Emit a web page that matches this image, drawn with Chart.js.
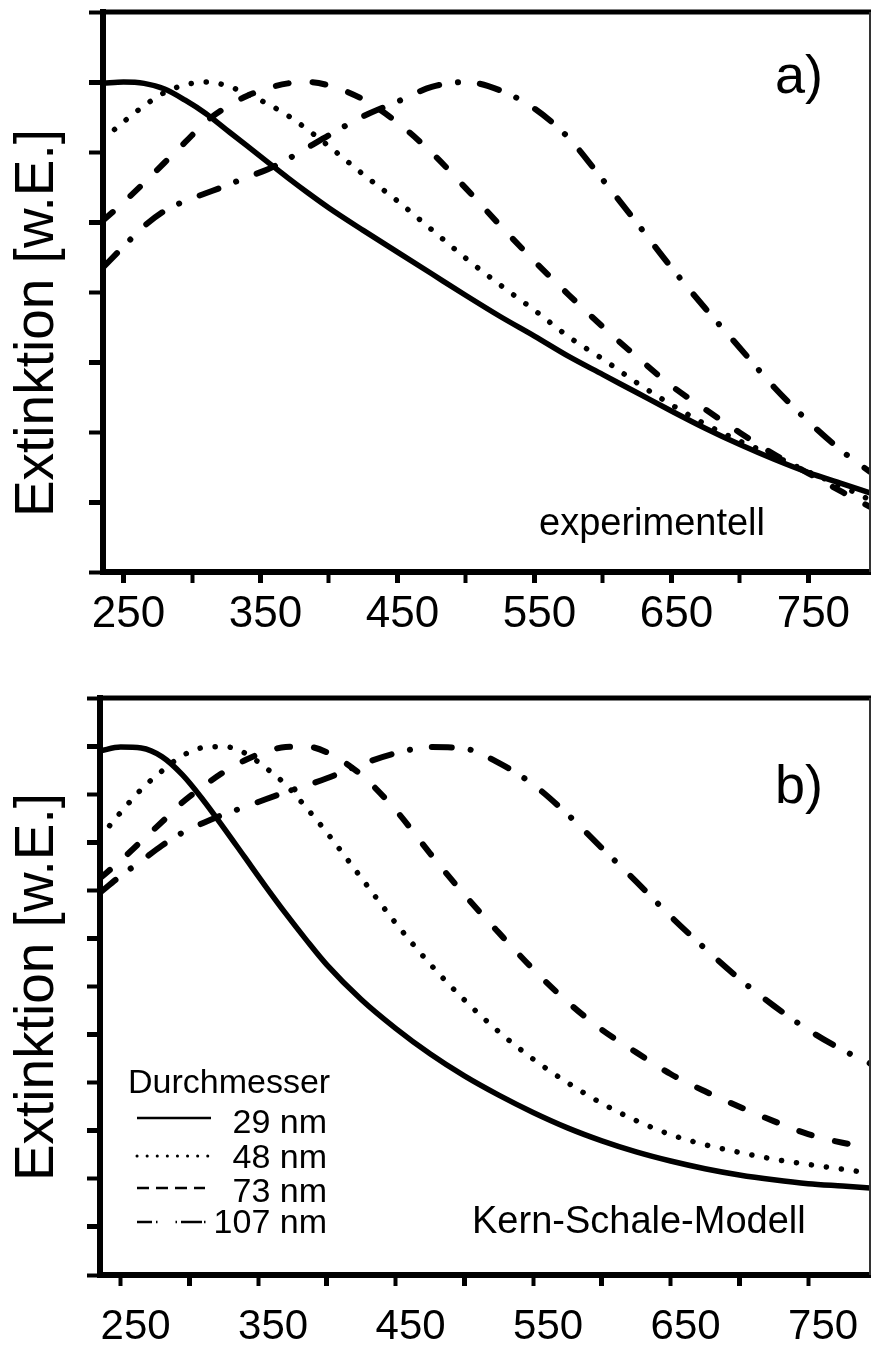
<!DOCTYPE html>
<html><head><meta charset="utf-8">
<script src="https://cdn.jsdelivr.net/npm/chart.js@4.4.0/dist/chart.umd.min.js"></script>
<style>
html,body{margin:0;padding:0;background:#fff;}
#wrap{position:relative;width:872px;height:1351px;background:#fff;}
.box{position:absolute;left:0;width:872px;}
canvas{display:block;}
</style></head><body>
<div id="wrap">
<div class="box" style="top:0;height:650px"><canvas id="ca" width="872" height="650"></canvas></div>
<div class="box" style="top:650px;height:701px"><canvas id="cb" width="872" height="701"></canvas></div>
</div>
<script>
// ---- data (wavelength in nm, extinction in arbitrary units = axis tick units) ----
const wavelengths = [235,250,265,280,295,310,325,340,355,370,385,400,425,450,475,500,525,550,575,600,625,650,675,700,725,750,775,795];
const xTickLabels = [250,350,450,550,650,750];
const xMinorTicks = [300,400,500,600,700];
const seriesNames = ['29 nm','48 nm','73 nm','107 nm'];

// panel a) experimentell
const expt29  = [6.98,7.00,6.98,6.90,6.74,6.55,6.32,6.09,5.86,5.63,5.41,5.20,4.88,4.57,4.26,3.95,3.65,3.37,3.08,2.82,2.56,2.30,2.05,1.82,1.61,1.42,1.26,1.13];
const expt48  = [6.18,6.43,6.66,6.85,6.96,7.00,6.95,6.83,6.69,6.52,6.31,6.08,5.68,5.30,4.89,4.48,4.10,3.74,3.36,3.04,2.70,2.39,2.11,1.87,1.66,1.43,1.22,1.03];
const expt73  = [5.02,5.28,5.56,5.85,6.14,6.43,6.64,6.80,6.91,6.98,7.00,6.95,6.75,6.42,5.99,5.48,4.95,4.44,3.96,3.50,3.07,2.66,2.32,1.99,1.68,1.41,1.14,0.93];
const expt107 = [4.35,4.65,4.94,5.16,5.30,5.41,5.52,5.64,5.75,5.90,6.07,6.24,6.51,6.72,6.93,7.00,6.88,6.62,6.20,5.60,4.98,4.35,3.76,3.20,2.64,2.15,1.72,1.43];

// panel b) Kern-Schale-Modell
const model29  = [10.90,10.98,10.96,10.78,10.40,9.88,9.30,8.70,8.10,7.52,6.97,6.45,5.73,5.13,4.60,4.14,3.74,3.38,3.06,2.79,2.56,2.37,2.21,2.08,1.98,1.90,1.85,1.81];
const model48  = [9.10,9.62,10.10,10.48,10.80,10.97,10.99,10.86,10.56,10.20,9.72,9.20,8.26,7.32,6.47,5.72,5.06,4.49,4.00,3.57,3.21,2.92,2.71,2.55,2.41,2.30,2.20,2.12];
const model73  = [8.25,8.62,9.02,9.42,9.83,10.16,10.46,10.70,10.88,10.98,10.99,10.87,10.40,9.67,8.77,7.91,7.12,6.36,5.68,5.10,4.63,4.18,3.82,3.50,3.20,2.93,2.75,2.65];
const model107 = [7.95,8.30,8.61,8.93,9.20,9.40,9.58,9.73,9.89,10.04,10.18,10.33,10.62,10.85,10.98,10.95,10.65,10.20,9.58,8.88,8.18,7.46,6.79,6.16,5.60,5.10,4.68,4.40];

const FONT = "'Liberation Sans', Arial, Helvetica, sans-serif";
const lineStyles = [
  {dash: [], width: 5.5},
  {dash: [0.1, 15], width: 5.5},
  {dash: [13, 24], width: 6},
  {dash: [20, 19, 0.1, 22], width: 6}
];
const allXTicks = [...xTickLabels, ...xMinorTicks].sort((a, b) => a - b);

function makeChart(id, series, opt, extraPlugin) {
  const datasets = series.map((vals, i) => ({
    label: seriesNames[i],
    data: wavelengths.map((w, j) => ({x: w, y: vals[j]})),
    borderColor: '#000',
    borderWidth: lineStyles[i].width,
    borderDash: lineStyles[i].dash,
    borderCapStyle: 'round',
    borderJoinStyle: 'round',
    pointRadius: 0,
    cubicInterpolationMode: 'monotone',
    fill: false
  }));
  const framePlugin = {
    id: 'frame' + id,
    afterDraw(chart) {
      const c = chart.ctx, a = chart.chartArea;
      c.save();
      c.strokeStyle = '#000';
      c.lineWidth = 5;
      c.beginPath(); c.moveTo(a.left - 3, a.top); c.lineTo(a.right + 1, a.top); c.stroke();
      c.strokeStyle = '#333';
      c.lineWidth = 2;
      c.beginPath(); c.moveTo(a.right, a.top); c.lineTo(a.right, a.bottom); c.stroke();
      // y axis title
      c.fillStyle = '#000';
      c.font = '55px ' + FONT;
      c.translate(53, opt.titleY);
      c.rotate(-Math.PI / 2);
      c.textAlign = 'center';
      c.textBaseline = 'alphabetic';
      c.fillText('Extinktion [w.E.]', 0, 0);
      c.restore();
      extraPlugin(chart);
    }
  };
  return new Chart(document.getElementById(id), {
    type: 'line',
    data: {datasets},
    options: {
      responsive: false,
      animation: false,
      devicePixelRatio: 1,
      layout: {padding: {top: opt.top, right: 2, left: 0, bottom: 0}},
      plugins: {legend: {display: false}, tooltip: {enabled: false}},
      scales: {
        x: {
          type: 'linear', min: 235, max: 795,
          afterBuildTicks: s => { s.ticks = allXTicks.map(v => ({value: v})); },
          afterFit: s => { s.height = opt.xh; },
          border: {display: true, width: 6, color: '#000'},
          grid: {
            display: true, drawOnChartArea: false, drawTicks: true, tickLength: 11,
            tickColor: '#000',
            tickWidth: ctx => opt.xMajor.includes(ctx.tick.value) ? 5 : 4
          },
          ticks: {
            autoSkip: false, maxRotation: 0, minRotation: 0,
            padding: opt.xpad, labelOffset: opt.labelOffset, color: '#000',
            font: {family: FONT, size: opt.xfs},
            callback: v => xTickLabels.includes(v) ? String(v) : ''
          }
        },
        y: {
          type: 'linear', min: 0, max: opt.ymax,
          afterFit: s => { s.width = opt.yw; },
          border: {display: true, width: 6, color: '#000'},
          grid: {
            display: true, drawOnChartArea: false, drawTicks: true, tickLength: opt.ytl,
            tickColor: '#000',
            tickWidth: ctx => (ctx.tick.value % 2 === 1) ? 5 : 4
          },
          ticks: {stepSize: 1, padding: 0, callback: () => ''}
        }
      }
    },
    plugins: [framePlugin]
  });
}

makeChart('ca', [expt29, expt48, expt73, expt107], {
  top: 12, xh: 78, yw: 103, ymax: 8, ytl: 14, xpad: 5, xfs: 44, labelOffset: 5,
  xMajor: xTickLabels, titleY: 323
}, chart => {
  const c = chart.ctx;
  c.save();
  c.fillStyle = '#000';
  c.textBaseline = 'alphabetic';
  c.font = '54px ' + FONT;
  c.textAlign = 'left';
  c.fillText('a)', 775, 93);
  c.font = '38px ' + FONT;
  c.textAlign = 'right';
  c.fillText('experimentell', 765, 535);
  c.restore();
});

makeChart('cb', [model29, model48, model73, model107], {
  top: 48, xh: 76, yw: 100, ymax: 12, ytl: 13, xpad: 16, xfs: 42, labelOffset: 15,
  xMajor: xMinorTicks, titleY: 337
}, chart => {
  const c = chart.ctx;
  c.save();
  c.fillStyle = '#000';
  c.strokeStyle = '#000';
  c.textBaseline = 'alphabetic';
  c.font = '54px ' + FONT;
  c.textAlign = 'left';
  c.fillText('b)', 775, 153);
  c.font = '38px ' + FONT;
  c.fillText('Kern-Schale-Modell', 472, 583);
  // legend
  c.font = '34px ' + FONT;
  c.fillText('Durchmesser', 128, 443);
  c.textAlign = 'right';
  const baselines = [483, 518, 552, 583];
  const lineY = [468, 506, 538, 572];
  const lineEnd = [211, 210, 205, 207];
  const legendDash = [[], [0.1, 10], [12, 7], [15, 4, 1.5, 18, 1.5, 4, 21, 2, 1.5, 40]];
  const legendCap = ['butt', 'round', 'butt', 'butt'];
  seriesNames.forEach((name, i) => {
    c.fillText(name, 327, baselines[i]);
    c.save();
    c.lineWidth = i === 1 ? 3 : 2.5;
    c.lineCap = legendCap[i];
    c.setLineDash(legendDash[i]);
    c.beginPath(); c.moveTo(137, lineY[i]); c.lineTo(lineEnd[i], lineY[i]); c.stroke();
    c.restore();
  });
  c.restore();
});
</script>
</body></html>
